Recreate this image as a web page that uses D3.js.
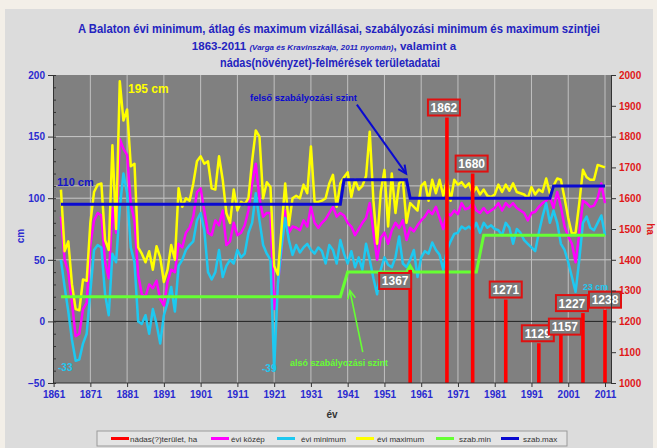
<!DOCTYPE html>
<html><head><meta charset="utf-8">
<script src="https://cdn.jsdelivr.net/npm/d3@7"></script>
<style>body{margin:0;background:#f3efe8;}svg{display:block;}</style>
</head><body><svg id="c" width="657" height="448"></svg>
<script>
// ---------- DATA ----------
const startYear = 1863;
// évi maximum (cm), 1863..2011
const evMaximum = [
  107,57,65,30,10,9,34,
  33,80,105,111,112,66,58,143,75,195,
  163,172,126,128,60,55,48,57,42,61,
  52,32,42,62,50,108,93,100,98,112,
  130,134,128,130,108,107,134,115,88,80,
  107,90,97,95,100,130,155,150,100,113,
  109,45,38,75,112,78,100,102,100,111,
  104,142,97,97,98,100,112,119,93,112,
  117,121,101,115,107,110,118,154,98,63,
  105,123,77,120,88,112,115,80,96,93,
  90,110,113,98,115,104,115,102,115,98,
  115,111,113,109,112,104,109,103,107,102,
  101,103,111,105,111,106,112,105,104,103,
  100,109,103,107,105,116,104,110,116,115,
  100,84,71,72,96,123,117,115,115,127,
  126,125
];
// évi közép (cm)
const evKozep = [
  85,50,40,15,-12,-10,10,
  15,62,82,88,86,48,35,92,72,148,
  140,135,95,82,38,22,20,30,27,33,
  18,13,32,42,40,63,60,72,76,85,
  105,108,90,72,70,82,78,90,62,65,
  80,70,72,78,90,112,128,100,85,88,
  88,10,30,58,90,72,77,76,74,82,
  77,93,80,76,80,83,88,93,85,88,
  86,80,77,70,75,80,84,96,72,50,
  68,72,63,74,80,76,82,66,76,73,
  78,82,85,90,87,93,84,75,88,86,
  90,87,96,91,92,96,90,88,92,88,
  90,92,96,90,96,93,96,92,90,88,
  82,88,89,93,96,98,101,92,105,93,
  77,69,63,48,71,98,96,93,94,100,
  112,96
];
// évi minimum (cm)
const evMinimum = [
  50,28,8,-15,-32,-31,-18,
  -10,24,58,62,60,22,5,55,48,92,
  120,104,60,48,0,-2,5,-10,10,-2,
  -18,5,15,28,8,45,50,58,62,65,
  82,88,74,40,34,40,58,36,45,50,
  47,58,52,55,72,80,104,82,62,55,
  50,-39,30,60,84,66,54,62,56,60,
  63,58,55,60,57,47,62,58,47,66,
  55,47,57,44,52,42,63,50,35,22,
  42,52,46,44,52,69,47,44,50,58,
  36,52,57,55,64,58,54,42,58,65,
  71,72,77,75,77,74,80,72,80,76,
  78,75,74,70,80,76,63,75,72,66,
  63,60,57,72,85,96,80,90,80,63,
  58,48,36,24,50,80,85,76,74,80,
  86,70
];
// szabályozási szintek (töréspontok)
const szabMaxYears = [1863,1939,1940,1957,1958,1996,1997,2011];
const szabMaxCm    = [95,95,115,115,100,100,110,110];
const szabMinYears = [1863,1939,1941,1957,1958,1959,1976,1978,2011];
const szabMinCm    = [20,20,40,40,45,40,40,70,70];
// nádas terület (ha)
const nadasYears = [1958,1968,1975,1984,1993,1999,2005,2011];
const nadasHa    = [1367,1862,1680,1271,1129,1157,1227,1238];
// tick labels
const xTickYears = [1861,1871,1881,1891,1901,1911,1921,1931,1941,1951,1961,1971,1981,1991,2001,2011];
const cmTicks = [-50,0,50,100,150,200];
const haTicks = [1000,1100,1200,1300,1400,1500,1600,1700,1800,1900,2000];
const legendItems = ["nádas(?)terület, ha","évi közép","évi minimum","évi maximum","szab.min","szab.max"];

// ---------- LAYOUT / STYLE ----------
const col = {yellow:"#ffff00", magenta:"#ff00ff", cyan:"#1ec8f0", green:"#66ff33", blue:"#0a0ad0", red:"#ff0000",
             title:"#2424c0", axisBlue:"#2a2ad0", axisRed:"#e01818"};
const L=53, R=611, T=75, B=383;
const font = "'Liberation Sans', Arial, sans-serif";
const labelOffsets = [[-15,21],[-3,0],[-1,0],[0,0],[-1,0],[4,2],[-11,0],[0,0]];
const legendX = [111,211,277,356,436,501];
const legendTextX = [130,231,301,377,459,523];

const svg = d3.select("#c");
const x = d3.scaleLinear().domain([1861,2011]).range([53.6,605]);
const yL = d3.scaleLinear().domain([-50,200]).range([B,T]);
const yR = d3.scaleLinear().domain([1000,2000]).range([B,T]);

// backgrounds
svg.append("rect").attr("x",0).attr("y",0).attr("width",657).attr("height",448).attr("fill","#f3efe8");
svg.append("rect").attr("x",5).attr("y",9).attr("width",648).attr("height",439).attr("fill","#dcdcdc");
svg.append("rect").attr("x",L).attr("y",T).attr("width",R-L).attr("height",B-T).attr("fill","#808080");

// gridlines
const g = svg.append("g");
[50,100,110,150].forEach(v=>{
  g.append("line").attr("x1",L).attr("x2",R).attr("y1",yL(v)).attr("y2",yL(v))
   .attr("stroke","#c8c8c8").attr("stroke-width",1);
});
xTickYears.slice(1).forEach(yr=>{
  g.append("line").attr("x1",x(yr)).attr("x2",x(yr)).attr("y1",T).attr("y2",B)
   .attr("stroke","#c0c0c0").attr("stroke-width",1);
});
g.append("line").attr("x1",L).attr("x2",R).attr("y1",yL(0)).attr("y2",yL(0)).attr("stroke","#222").attr("stroke-width",1);

// series lines
const lineYr = d3.line().x((d,i)=>x(startYear+i)).y(d=>yL(d));
function drawSeries(arr,c,w){
  svg.append("path").attr("d",lineYr(arr)).attr("fill","none").attr("stroke",c)
     .attr("stroke-width",w).attr("stroke-linejoin","round");
}
drawSeries(evKozep,col.magenta,2.5);
drawSeries(evMinimum,col.cyan,2.5);
drawSeries(evMaximum,col.yellow,2.5);
const stepLine = d3.line().x(d=>x(d[0])).y(d=>yL(d[1]));
svg.append("path").attr("d",stepLine(szabMinYears.map((y,i)=>[y,szabMinCm[i]])))
   .attr("fill","none").attr("stroke",col.green).attr("stroke-width",3);
svg.append("path").attr("d",stepLine(szabMaxYears.map((y,i)=>[y,szabMaxCm[i]])))
   .attr("fill","none").attr("stroke",col.blue).attr("stroke-width",3);

// bars
svg.append("g").selectAll("rect").data(nadasHa).join("rect")
  .attr("x",(d,i)=>x(nadasYears[i])-1.8).attr("width",3.6)
  .attr("y",d=>yR(d)).attr("height",d=>yR(1000)-yR(d)).attr("fill",col.red);

// bar labels
const lab = svg.append("g");
nadasHa.forEach((v,i)=>{
  const cx = x(nadasYears[i]) + labelOffsets[i][0];
  const bot = yR(v) - 2 + labelOffsets[i][1];
  lab.append("rect").attr("x",cx-16).attr("y",bot-16).attr("width",32).attr("height",16)
    .attr("fill","#7c7c7c").attr("stroke","#e01010").attr("stroke-width",2);
  lab.append("text").attr("x",cx).attr("y",bot-3.5).attr("text-anchor","middle")
    .attr("font-family",font).attr("font-weight","bold").attr("font-size",12).attr("fill","#ffffff").text(v);
});

// annotations
function txt(t,xp,yp,c,size,opts={}){
  const e = svg.append("text").attr("x",xp).attr("y",yp).attr("fill",c).attr("font-family",font)
    .attr("font-weight","bold").attr("font-size",size).text(t);
  if(opts.len) e.attr("textLength",opts.len).attr("lengthAdjust","spacingAndGlyphs");
  if(opts.anchor) e.attr("text-anchor",opts.anchor);
  return e;
}
txt("195 cm",128,93,col.yellow,12);
txt("110 cm",57,186,"#1414c8",11);
txt("felső szabályozási szint",250,101,col.blue,9,{len:107});
txt("alsó szabályozási szint",290,366,col.green,9,{len:98});
txt("-33",58,371,col.cyan,10);
txt("-39",262,372,col.cyan,10);
txt("23 cm",583,290,col.cyan,9,{len:25});

function arrow(x1,y1,x2,y2,c,w){
  svg.append("line").attr("x1",x1).attr("y1",y1).attr("x2",x2).attr("y2",y2).attr("stroke",c).attr("stroke-width",w);
  const a = Math.atan2(y2-y1,x2-x1), h=9, s=0.45;
  const p1=[x2-h*Math.cos(a-s),y2-h*Math.sin(a-s)], p2=[x2-h*Math.cos(a+s),y2-h*Math.sin(a+s)];
  svg.append("path").attr("d",`M${p1}L${x2},${y2}L${p2}`).attr("fill","none").attr("stroke",c).attr("stroke-width",w);
}
arrow(x(1943.5),yL(176),x(1956.9),yL(120),col.blue,2);
arrow(x(1945.1),yL(-25),x(1941.6),yL(25),col.green,1.6);

// axes
const axL = svg.append("g").attr("transform",`translate(${L},0)`)
  .call(d3.axisLeft(yL).tickValues(cmTicks).tickSize(5).tickPadding(3));
const axLminor = svg.append("g").attr("transform",`translate(${L},0)`)
  .call(d3.axisRight(yL).ticks(25).tickSize(3).tickFormat(""));
const axR = svg.append("g").attr("transform",`translate(${R},0)`)
  .call(d3.axisRight(yR).tickValues(haTicks).tickFormat(d3.format("d")).tickSize(5).tickPadding(3));
const axB = svg.append("g").attr("transform",`translate(0,${B})`)
  .call(d3.axisBottom(x).tickValues(xTickYears).tickFormat(d3.format("d")).tickSize(4).tickPadding(4));
[axL,axLminor,axR,axB].forEach(a=>{
  a.select(".domain").attr("stroke","#333").attr("stroke-width",1);
  a.selectAll(".tick line").attr("stroke","#333");
  a.selectAll("text").attr("font-family",font).attr("font-weight","bold").attr("font-size",10);
});
axL.selectAll("text").attr("fill",col.axisBlue);
axB.selectAll("text").attr("fill",col.axisBlue);
axR.selectAll("text").attr("fill",col.axisRed);
axB.select(".domain").attr("d",`M${L},0H${R}`);

svg.append("text").attr("transform","translate(24,236) rotate(-90)").attr("text-anchor","middle")
  .attr("font-family",font).attr("font-weight","bold").attr("font-size",10).attr("fill",col.axisBlue).text("cm");
svg.append("text").attr("transform","translate(647,229) rotate(90)").attr("text-anchor","middle")
  .attr("font-family",font).attr("font-weight","bold").attr("font-size",10).attr("fill",col.axisRed).text("ha");
svg.append("text").attr("x",332).attr("y",418).attr("text-anchor","middle")
  .attr("font-family",font).attr("font-weight","bold").attr("font-size",10).attr("fill","#333").text("év");

// title
svg.append("text").attr("x",339).attr("y",33).attr("text-anchor","middle").attr("fill",col.title)
  .attr("font-family",font).attr("font-weight","bold").attr("font-size",12.5)
  .attr("textLength",522).attr("lengthAdjust","spacingAndGlyphs")
  .text("A Balaton évi minimum, átlag és maximum vizállásai, szabályozási minimum és maximum szintjei");
const t2 = svg.append("text").attr("x",324).attr("y",50).attr("text-anchor","middle").attr("fill",col.title)
  .attr("font-family",font).attr("font-weight","bold").attr("font-size",11.5);
t2.append("tspan").text("1863-2011 ");
t2.append("tspan").attr("font-style","italic").attr("font-size",8).text("(Varga és Kravinszkaja, 2011 nyomán)");
t2.append("tspan").text(", valamint a");
svg.append("text").attr("x",330).attr("y",67).attr("text-anchor","middle").attr("fill",col.title)
  .attr("font-family",font).attr("font-weight","bold").attr("font-size",12.5)
  .attr("textLength",220).attr("lengthAdjust","spacingAndGlyphs")
  .text("nádas(növényzet)-felmérések területadatai");

// legend
const leg = svg.append("g");
leg.append("rect").attr("x",97).attr("y",431).attr("width",470).attr("height",15)
  .attr("fill","#e4e4e4").attr("stroke","#9a9a9a").attr("stroke-width",1);
const legCols = [col.red,col.magenta,col.cyan,col.yellow,col.green,col.blue];
legendItems.forEach((t,i)=>{
  leg.append("line").attr("x1",legendX[i]).attr("x2",legendX[i]+18).attr("y1",438.5).attr("y2",438.5)
    .attr("stroke",legCols[i]).attr("stroke-width",3);
  leg.append("text").attr("x",legendTextX[i]).attr("y",441.5).attr("font-family",font).attr("font-size",8)
    .attr("fill","#333").text(t);
});
</script></body></html>
